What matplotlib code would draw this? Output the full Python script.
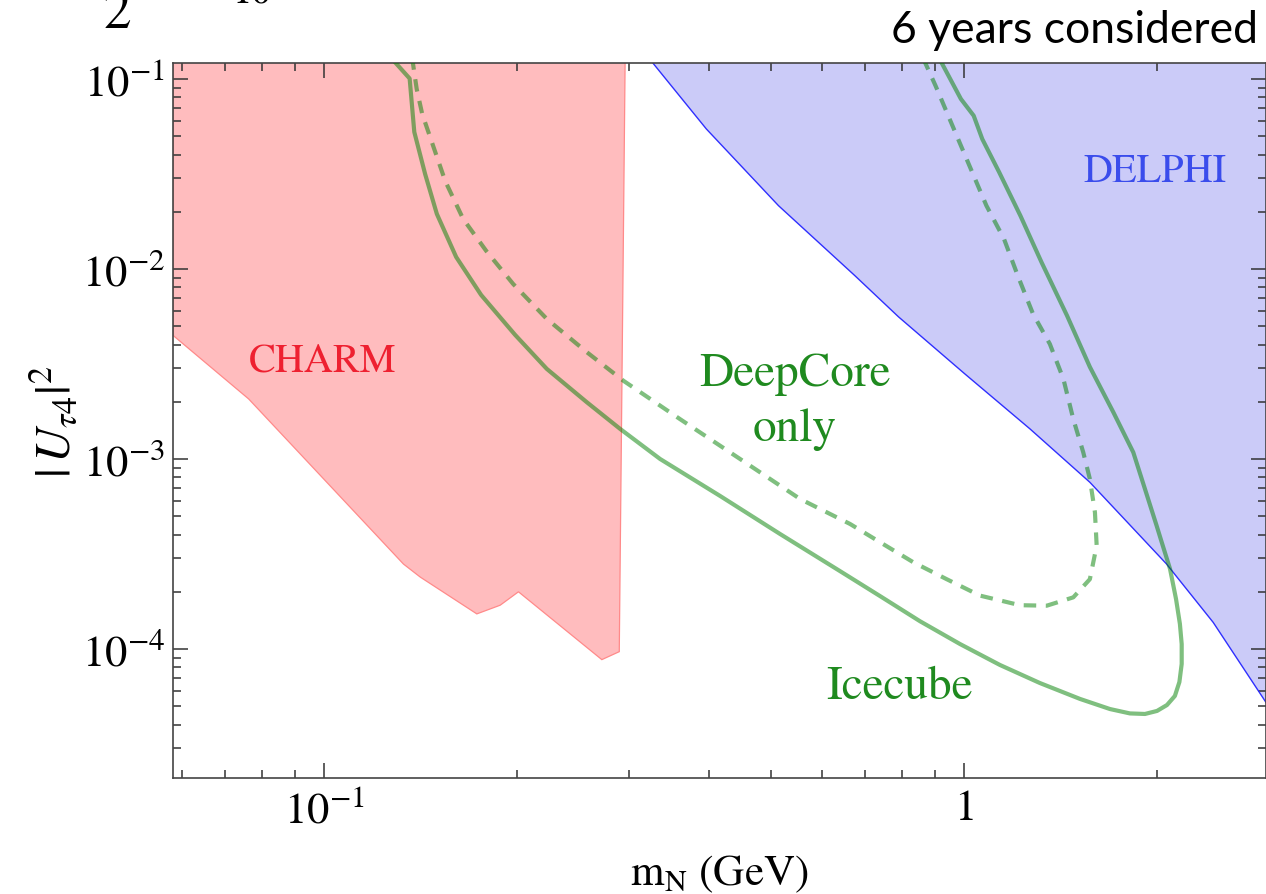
import matplotlib
matplotlib.use("Agg")
import matplotlib.pyplot as plt
from matplotlib.ticker import FixedLocator, NullFormatter

plt.rcParams["font.family"] = ["STIXGeneral", "DejaVu Serif"]
plt.rcParams["mathtext.fontset"] = "stix"

# CHARM excluded region (outline of the polygon)
charm_m = [0.0581, 0.0581, 0.0762, 0.133, 0.1413, 0.1732, 0.1884, 0.2012,
           0.2716, 0.2892, 0.2954]
charm_u = [0.13, 4.46e-3, 2.07e-3, 2.80e-4, 2.39e-4, 1.53e-4, 1.70e-4, 2.00e-4,
           8.79e-5, 9.68e-5, 0.13]

# DELPHI lower boundary
delphi_m = [0.321, 0.3956, 0.5129, 0.6753, 0.790, 1.0036, 1.268, 1.573,
            2.073, 2.452, 3.0]
delphi_u = [0.13, 0.0546, 0.02155, 9.22e-3, 5.60e-3, 2.80e-3, 1.44e-3, 7.54e-4,
            2.80e-4, 1.38e-4, 4.93e-5]

# Icecube sensitivity (solid)
icecube_m = [0.127, 0.136, 0.1383, 0.1438, 0.150, 0.1608, 0.1759, 0.1988,
             0.2228, 0.2573, 0.2901, 0.335, 0.4157, 0.5158, 0.640, 0.739,
             0.8535, 0.9857, 1.138, 1.314, 1.518, 1.691, 1.817, 1.918, 2.003,
             2.076, 2.136, 2.171, 2.189, 2.189, 2.175, 2.145, 2.099, 2.046,
             2.0, 1.918, 1.839, 1.712, 1.573, 1.449, 1.322, 1.225, 1.135,
             1.068, 1.0355, 0.9889, 0.913]
icecube_u = [0.13, 0.1006, 0.0526, 0.0316, 0.01948, 0.01156, 7.30e-3, 4.50e-3,
             2.98e-3, 1.99e-3, 1.44e-3, 1.0e-3, 6.39e-4, 4.03e-4, 2.57e-4,
             1.90e-4, 1.40e-4, 1.062e-4, 8.24e-5, 6.62e-5, 5.46e-5, 4.83e-5,
             4.58e-5, 4.55e-5, 4.72e-5, 5.07e-5, 5.66e-5, 6.70e-5, 8.34e-5,
             1.062e-4, 1.355e-4, 1.83e-4, 2.64e-4, 3.48e-4, 4.46e-4, 6.95e-4,
             1.084e-3, 1.76e-3, 3.05e-3, 5.68e-3, 0.01084, 0.01908, 0.0323,
             0.0483, 0.0641, 0.0785, 0.13]

# DeepCore only sensitivity (dashed)
deepcore_m = [0.1372, 0.1395, 0.1423, 0.1482, 0.1546, 0.1649, 0.1792, 0.1974,
              0.2228, 0.2573, 0.2936, 0.360, 0.4467, 0.5544, 0.6636, 0.739,
              0.8333, 0.9396, 1.059, 1.223, 1.347, 1.482, 1.573, 1.612, 1.602,
              1.573, 1.536, 1.482, 1.430, 1.362, 1.282, 1.214, 1.155, 1.084,
              1.0355, 0.9889, 0.9448, 0.9026, 0.862]
deepcore_u = [0.13, 0.0886, 0.0654, 0.0439, 0.0290, 0.01833, 0.01244, 8.34e-3,
              5.46e-3, 3.65e-3, 2.58e-3, 1.62e-3, 1.0e-3, 6.16e-4, 4.55e-4,
              3.65e-4, 2.86e-4, 2.33e-4, 1.91e-4, 1.70e-4, 1.69e-4, 1.87e-4,
              2.33e-4, 3.50e-4, 5.24e-4, 7.85e-4, 1.084e-3, 1.62e-3, 2.64e-3,
              4.03e-3, 5.80e-3, 9.19e-3, 0.01438, 0.02155, 0.03097, 0.0446,
              0.0641, 0.0922, 0.13]

x_ticks = [0.1, 1]
x_labels = ["$10^{-1}$", "$1$"]
y_ticks = [1e-4, 1e-3, 1e-2, 1e-1]
y_labels = ["$10^{-4}$", "$10^{-3}$", "$10^{-2}$", "$10^{-1}$"]

fig = plt.figure(figsize=(12.66, 8.95), dpi=100)
ax = fig.add_axes([0.1369, 0.1293, 0.8631, 0.7992])

ax.fill(charm_m, charm_u, facecolor="#ffbcbe", edgecolor="#ff8a8a", lw=0.9, zorder=1)
ax.fill_between(delphi_m, delphi_u, 0.2, facecolor="#cbcbf8", edgecolor="none", zorder=1)
ax.plot(delphi_m, delphi_u, color="#2f2fff", lw=1.0, zorder=2)

ax.plot(icecube_m, icecube_u, color="green", alpha=0.5, lw=3.0, zorder=3,
        solid_joinstyle="round")
ax.plot(deepcore_m, deepcore_u, color="green", alpha=0.5, lw=3.0, zorder=3,
        linestyle=(0, (3.0, 2.3)))

ax.set_xscale("log")
ax.set_yscale("log")
ax.set_xlim(0.0581, 2.965)
ax.set_ylim(2.087e-5, 0.1214)

ax.xaxis.set_major_locator(FixedLocator(x_ticks))
ax.set_xticklabels(x_labels)
minor_x = [0.06, 0.07, 0.08, 0.09, 0.2, 0.3, 0.4, 0.5, 0.6, 0.7, 0.8, 0.9, 2]
ax.xaxis.set_minor_locator(FixedLocator(minor_x))
ax.xaxis.set_minor_formatter(NullFormatter())
ax.yaxis.set_major_locator(FixedLocator(y_ticks))
ax.set_yticklabels(y_labels)
minor_y = [k * 10.0 ** e for e in range(-5, -1) for k in range(2, 10)]
ax.yaxis.set_minor_locator(FixedLocator(minor_y))
ax.yaxis.set_minor_formatter(NullFormatter())

ax.tick_params(which="both", direction="in", top=True, right=True,
               color="#333333", width=1.1, labelsize=32)
ax.tick_params(which="major", length=11)
ax.tick_params(which="minor", length=5.5)
ax.tick_params(axis="x", pad=8)
ax.tick_params(axis="y", pad=6)
for s in ax.spines.values():
    s.set_color("#444444")
    s.set_linewidth(1.2)

ax.set_xlabel(r"$\mathrm{m_N}$ (GeV)", fontsize=31, labelpad=16)
ax.set_ylabel(r"$|\,U_{\tau 4}|^{2}$", fontsize=35, labelpad=0)

ax.text(0.0996, 3.28e-3, "CHARM", color="#ee2030", fontsize=29, ha="center", va="center")
ax.text(1.988, 0.0326, "DELPHI", color="#3a4cec", fontsize=29, ha="center", va="center")
ax.text(0.544, 2.80e-3, "DeepCore", color="#1f8a1f", fontsize=34, ha="center", va="center")
ax.text(0.544, 1.44e-3, "only", color="#1f8a1f", fontsize=34, ha="center", va="center")
ax.text(0.794, 6.31e-5, "Icecube", color="#1f8a1f", fontsize=34, ha="center", va="center")

fig.text(1258 / 1266, 1 - 43 / 895, "6 years considered", family="Lato",
         fontsize=32, ha="right", va="baseline")
fig.text(103 / 1266, 1 - 28 / 895, "2", fontsize=40, ha="left", va="baseline")
fig.text(233 / 1266, 1 - 4 / 895, "10", fontsize=28, ha="left", va="baseline")

fig.savefig("out.png", dpi=100)
